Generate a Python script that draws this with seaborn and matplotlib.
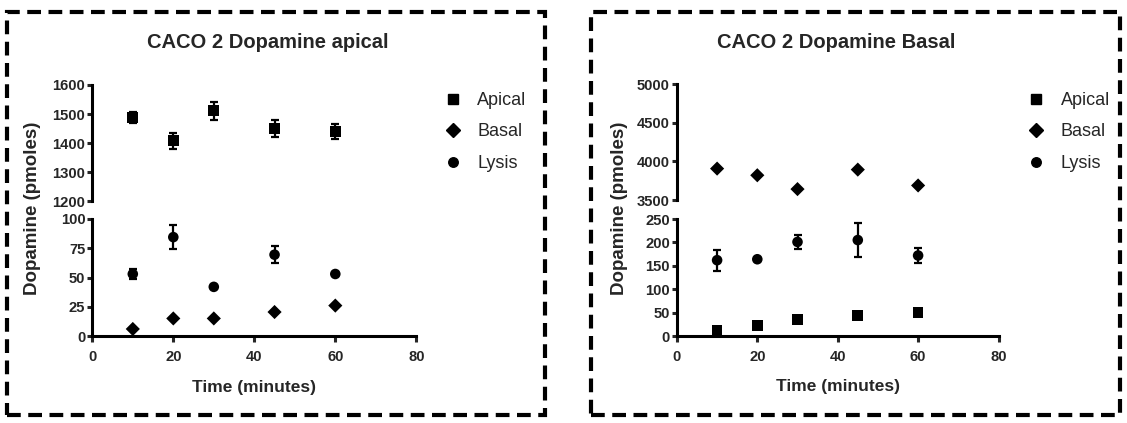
import numpy as np
import pandas as pd
import matplotlib
matplotlib.use("Agg")
import matplotlib.pyplot as plt
from matplotlib.patches import Rectangle
from matplotlib.lines import Line2D
import seaborn as sns

# ---------------- data ----------------
time_min = [10, 20, 30, 45, 60]
series_names = ["Apical", "Basal", "Lysis"]

# Panel 1: CACO 2 Dopamine apical
apical_p1 = [1488, 1408, 1511, 1450, 1440]
apical_p1_err = [18, 28, 32, 29, 25]
basal_p1 = [6, 15, 15, 20.5, 26]
basal_p1_err = [0, 0, 0, 0, 0]
lysis_p1 = [53, 84.5, 42, 69.5, 53]
lysis_p1_err = [4.5, 10.5, 0, 7.5, 0]

# Panel 2: CACO 2 Dopamine Basal
apical_p2 = [13, 23, 35, 44, 50]
apical_p2_err = [0, 0, 0, 0, 0]
basal_p2 = [3906, 3820, 3641, 3893, 3688]
basal_p2_err = [0, 0, 0, 0, 0]
lysis_p2 = [162, 164, 201, 205, 172]
lysis_p2_err = [22.5, 0, 15, 37, 15]

titles = ["CACO 2 Dopamine apical", "CACO 2 Dopamine Basal"]
x_ticks = [0, 20, 40, 60, 80]
upper_ticks = [[1200, 1300, 1400, 1500, 1600], [3500, 4000, 4500, 5000]]
lower_ticks = [[0, 25, 50, 75, 100], [0, 50, 100, 150, 200, 250]]
x_label = "Time (minutes)"
y_label = "Dopamine (pmoles)"


def long_frame(ap, ap_e, ba, ba_e, ly, ly_e):
    rows = []
    for name, vals, errs in zip(series_names, [ap, ba, ly], [ap_e, ba_e, ly_e]):
        for t, v, e in zip(time_min, vals, errs):
            rows.append({"time": t, "value": v, "err": e, "series": name})
    return pd.DataFrame(rows)


panels = [
    long_frame(apical_p1, apical_p1_err, basal_p1, basal_p1_err, lysis_p1, lysis_p1_err),
    long_frame(apical_p2, apical_p2_err, basal_p2, basal_p2_err, lysis_p2, lysis_p2_err),
]

# ---------------- style ----------------
sns.set_style("white")
plt.rcParams["font.family"] = ["Liberation Sans", "DejaVu Sans"]
plt.rcParams["font.weight"] = "bold"
plt.rcParams["axes.edgecolor"] = "black"

W, H = 1127, 423
fig = plt.figure(figsize=(W / 100, H / 100), dpi=100)
fig.patch.set_facecolor("white")


def fx(px):
    return px / W


def fy(py):
    return 1 - py / H


markers = {"Apical": "s", "Basal": "D", "Lysis": "o"}
sizes = {"Apical": 60, "Basal": 52, "Lysis": 58}

# pixel layout per panel
layout = [
    dict(x0=92.3, x1=416.3, up_top=85, up_bot=201, lo_top=219, lo_bot=336,
         border=(6.5, 12, 545, 415), title_xy=(268, 43), ylab_xy=(33, 208),
         xlab_xy=(254, 387), leg_xy=(442, 92)),
    dict(x0=676.9, x1=998.5, up_top=84, up_bot=200, lo_top=219, lo_bot=336,
         border=(591, 12, 1120, 415), title_xy=(836, 43), ylab_xy=(619, 208),
         xlab_xy=(838, 386), leg_xy=(1025.5, 92)),
]

spine_w = 2.2

for p, (df, L) in enumerate(zip(panels, layout)):
    ax_up = fig.add_axes([fx(L["x0"]), fy(L["up_bot"]), fx(L["x1"] - L["x0"]),
                          (L["up_bot"] - L["up_top"]) / H])
    ax_lo = fig.add_axes([fx(L["x0"]), fy(L["lo_bot"]), fx(L["x1"] - L["x0"]),
                          (L["lo_bot"] - L["lo_top"]) / H])
    for ax, ticks in ((ax_up, upper_ticks[p]), (ax_lo, lower_ticks[p])):
        lo, hi = ticks[0], ticks[-1]
        sub = df[(df["value"] >= lo) & (df["value"] <= hi)]
        eb = sub[sub["err"] > 0]
        if len(eb):
            ax.errorbar(eb["time"], eb["value"], yerr=eb["err"], fmt="none",
                        ecolor="black", elinewidth=1.6, capsize=3.2, capthick=1.6,
                        clip_on=False, zorder=3)
        sns.scatterplot(data=sub, x="time", y="value", style="series",
                        markers=markers, size="series", sizes=sizes,
                        color="black", edgecolor="black", linewidth=0,
                        legend=False, ax=ax, clip_on=False, zorder=4)
        ax.set_xlim(0, 80)
        ax.set_ylim(lo, hi)
        ax.set_yticks(ticks)
        ax.set_xlabel("")
        ax.set_ylabel("")
        ax.set_facecolor("none")
        for s in ax.spines.values():
            s.set_visible(False)
        ax.spines["left"].set_visible(True)
        ax.spines["left"].set_linewidth(spine_w)
        ax.tick_params(axis="y", direction="out", length=3.5, width=spine_w,
                       labelsize=10.6, pad=1.5, left=True)
        for lbl in ax.get_yticklabels():
            lbl.set_fontweight("bold")
    ax_up.set_xticks([])
    ax_lo.set_xticks(x_ticks)
    ax_lo.spines["bottom"].set_visible(True)
    ax_lo.spines["bottom"].set_linewidth(spine_w)
    ax_lo.tick_params(axis="x", direction="out", length=4, width=spine_w,
                      labelsize=10.6, pad=6, bottom=True)
    for lbl in ax_lo.get_xticklabels():
        lbl.set_fontweight("bold")

    # texts
    fig.text(fx(L["title_xy"][0]), fy(L["title_xy"][1]), titles[p], ha="center",
             va="center", fontsize=14.5, fontweight="bold")
    fig.text(fx(L["ylab_xy"][0]), fy(L["ylab_xy"][1]), y_label, ha="center",
             va="center", rotation=90, fontsize=13.5, fontweight="bold")
    fig.text(fx(L["xlab_xy"][0]), fy(L["xlab_xy"][1]), x_label, ha="center",
             va="center", fontsize=12.5, fontweight="bold")

    # legend
    handles = [Line2D([], [], linestyle="none", marker=markers[n], color="black",
                      markersize=np.sqrt(sizes[n]) * (0.9 if n != "Basal" else 0.95))
               for n in series_names]
    fig.legend(handles, series_names, loc="upper left",
               bbox_to_anchor=(fx(L["leg_xy"][0]), fy(L["leg_xy"][1])),
               bbox_transform=fig.transFigure, frameon=False, borderpad=0,
               borderaxespad=0, handlelength=1.2, handletextpad=0.75,
               labelspacing=0.8, prop={"size": 13, "weight": "normal"})

    # dashed border
    bx0, by0, bx1, by1 = L["border"]
    fig.patches.append(Rectangle((fx(bx0), fy(by1)), fx(bx1 - bx0), (by1 - by0) / H,
                                 transform=fig.transFigure, fill=False,
                                 edgecolor="black", linewidth=3,
                                 linestyle=(0, (3.3, 1.8)), zorder=10))

fig.savefig("out.png", dpi=100, facecolor="white")
